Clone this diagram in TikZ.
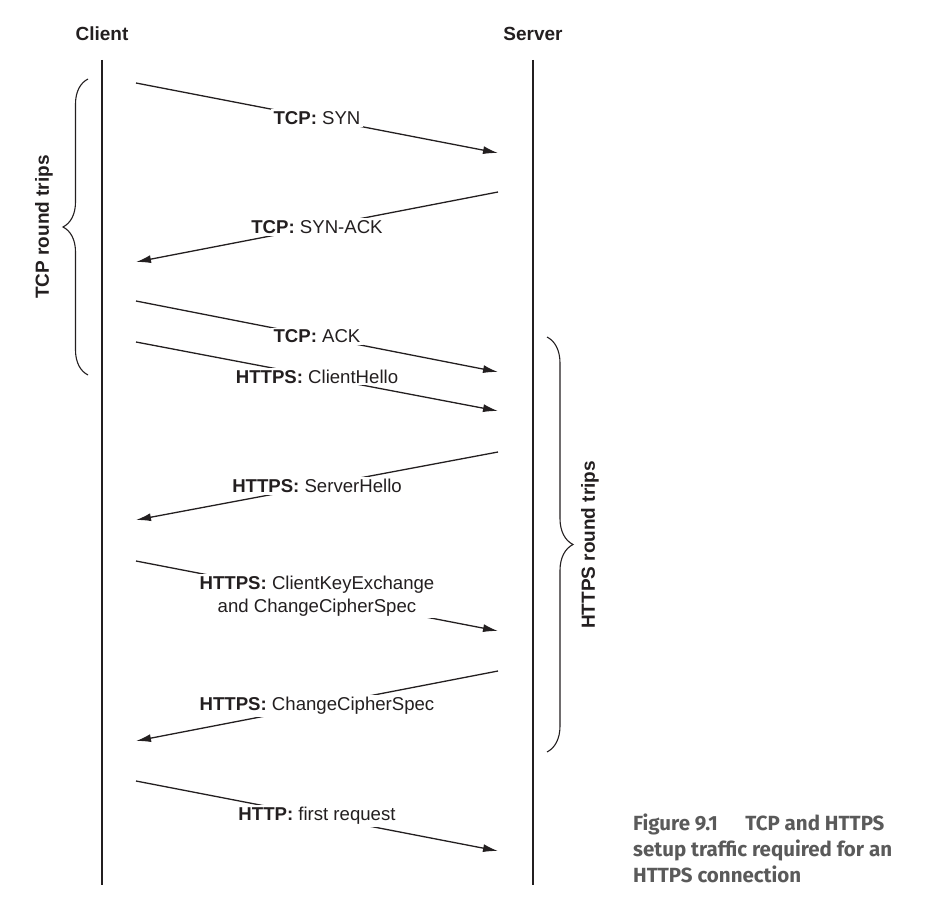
\documentclass[tikz,border=0pt]{standalone}
\usepackage{fontspec}
\setmainfont{Liberation Sans}
\newfontfamily\figcapfont{Fira Sans}
\usetikzlibrary{arrows.meta,decorations.pathreplacing}
\definecolor{ink}{HTML}{231F20}
\definecolor{capgray}{HTML}{5A5A5A}
\tikzset{
  >={Latex[length=15pt,width=8pt]},
  life/.style={ink,line width=1.3pt},
  msg/.style={ink,->,line width=1.3pt},
  lbl/.style={fill=white,inner xsep=3pt,inner ysep=2pt,align=center,text=ink,font=\fontsize{18.6}{22.5}\selectfont},
  head/.style={text=ink,font=\fontsize{19}{23}\selectfont\bfseries},
  brc/.style={ink,line width=1.1pt,decorate,decoration={brace,amplitude=#1}},
  figcap/.style={text=capgray,align=left,inner sep=0pt,font=\figcapfont\fontsize{20.5}{26}\selectfont\bfseries},
}

\begin{document}
\begin{tikzpicture}[x=1pt,y=-1pt]
  \useasboundingbox (0,0) rectangle (940,920);

  % lifelines
  \node[head] (client) at (102,34) {Client};
  \node[head] (server) at (533,34) {Server};
  \coordinate (cl-top) at (102,60);
  \coordinate (cl-bot) at (102,885);
  \coordinate (sv-top) at (533,60);
  \coordinate (sv-bot) at (533,885);
  \draw[life] (cl-top) -- (cl-bot);
  \draw[life] (sv-top) -- (sv-bot);

  % message end points
  \coordinate (syn-a) at (136,83);   \coordinate (syn-b) at (498,153);
  \coordinate (sack-a) at (498,192); \coordinate (sack-b) at (136,262);
  \coordinate (ack-a) at (136,301);  \coordinate (ack-b) at (498,372);
  \coordinate (chello-a) at (136,342); \coordinate (chello-b) at (498,411);
  \coordinate (shello-a) at (498,452); \coordinate (shello-b) at (136,520);
  \coordinate (ckey-a) at (136,561); \coordinate (ckey-b) at (498,631);
  \coordinate (ccs-a) at (498,671);  \coordinate (ccs-b) at (136,741);
  \coordinate (req-a) at (136,781);  \coordinate (req-b) at (498,851);

  % messages
  \draw[msg] (syn-a) -- node[lbl] (syn) {\textbf{TCP:} SYN} (syn-b);
  \draw[msg] (sack-a) -- node[lbl] (sack) {\textbf{TCP:} SYN-ACK} (sack-b);
  \draw[msg] (ack-a) -- node[lbl] (ack) {\textbf{TCP:} ACK} (ack-b);
  \draw[msg] (chello-a) -- node[lbl] (chello) {\textbf{HTTPS:} ClientHello} (chello-b);
  \draw[msg] (shello-a) -- node[lbl] (shello) {\textbf{HTTPS:} ServerHello} (shello-b);
  \draw[msg] (ckey-a) -- node[lbl] (ckey) {\textbf{HTTPS:} ClientKeyExchange\\and ChangeCipherSpec} (ckey-b);
  \draw[msg] (ccs-a) -- node[lbl] (ccs) {\textbf{HTTPS:} ChangeCipherSpec} (ccs-b);
  \draw[msg] (req-a) -- node[lbl] (req) {\textbf{HTTP:} first request} (req-b);

  % round trip braces
  \coordinate (tcp-lo) at (88,375);   \coordinate (tcp-hi) at (88,79);
  \coordinate (tls-hi) at (547,337);  \coordinate (tls-lo) at (547,752);
  \draw[brc=25pt] (tcp-lo) -- (tcp-hi);
  \draw[brc=26pt] (tls-hi) -- (tls-lo);
  \node[head,rotate=90] (tcprt) at (44,227) {TCP round trips};
  \node[head,rotate=90] (tlsrt) at (590,545) {HTTPS round trips};

  % caption
  \node[figcap,anchor=north west] (fig) at (633,814)
    {Figure 9.1\hspace{1.35em}TCP and HTTPS\\setup traffic required for an\\HTTPS connection};
\end{tikzpicture}
\end{document}
